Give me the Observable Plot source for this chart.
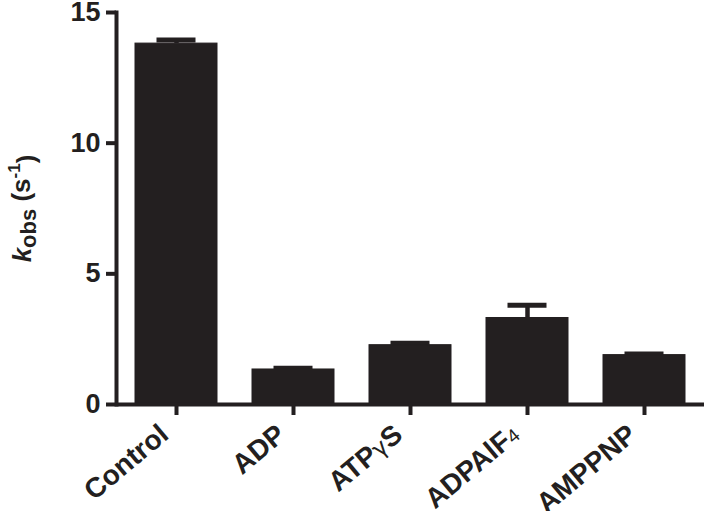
<!DOCTYPE html>
<html><head><meta charset="utf-8">
<script src="https://cdn.jsdelivr.net/npm/d3@7"></script>
<script src="https://cdn.jsdelivr.net/npm/@observablehq/plot@0.6"></script>
<style>
body{margin:0;background:#fff}
svg{font-family:"Liberation Sans",Arial,Helvetica,sans-serif}
</style>
</head><body><div id="chart"></div>
<script>
// Data
const categories = ["Control", "ADP", "ATPγS", "ADPAlF4", "AMPPNP"];
const means = [13.81, 1.34, 2.27, 3.31, 1.89];
const errors = [0.14, 0.05, 0.07, 0.49, 0.04];
const yTicks = [0, 5, 10, 15];
const yLabel = "kobs (s-1)";

const ink = "#231f20";
const data = categories.map((c, i) => ({cat: c, mean: means[i], top: means[i] + errors[i]}));

const plot = Plot.plot({
  width: 708,
  height: 511,
  marginLeft: 116,
  marginRight: 4,
  marginTop: 12,
  marginBottom: 107,
  style: {background: "#fff", color: ink, fontFamily: "'Liberation Sans', Arial, sans-serif"},
  x: {domain: categories, paddingInner: 0.3, paddingOuter: 0.15, label: null},
  y: {domain: [0, 15], label: null},
  marks: [
    Plot.ruleX(data, {x: "cat", y1: "mean", y2: "top", stroke: ink, strokeWidth: 4.5}),
    Plot.tickY(data, {x: "cat", y: "top", stroke: ink, strokeWidth: 5, insetLeft: 21.5, insetRight: 21.5}),
    Plot.barY(data, {x: "cat", y: "mean", fill: ink, stroke: ink, strokeWidth: 1}),
    Plot.ruleY([0], {stroke: ink, strokeWidth: 4}),
    Plot.frame({anchor: "left", stroke: ink, strokeWidth: 4}),
    Plot.axisY({ticks: yTicks, tickSize: 10, tickPadding: 6, fontSize: 27, fontWeight: "bold", strokeWidth: 4, label: null}),
    Plot.axisX({tickSize: 11, tickFormat: () => "", strokeWidth: 4, label: null}),
    Plot.axisX({tickSize: 0, tickPadding: 26, dx: -12, tickRotate: -40, fontSize: 28, fontWeight: "bold", label: null}),
    Plot.text([yLabel], {frameAnchor: "left", dx: -94, rotate: -90, fontSize: 26, fontWeight: "bold", fill: ink, textAnchor: "middle", className: "ylab"})
  ]
});
document.getElementById("chart").appendChild(plot);

// Rich text: italics, sub/superscripts
const svg = d3.select(plot);
svg.selectAll("g[aria-label='x-axis tick label'] text").each(function() {
  const t = d3.select(this);
  const s = t.text();
  if (s === "") { t.remove(); return; }
  if (s === "ATPγS") {
    t.text(null);
    t.append("tspan").text("ATP");
    t.append("tspan").attr("font-weight", "normal").attr("font-family", "'DejaVu Sans', sans-serif").attr("font-size", 23).text("γ");
    t.append("tspan").text("S");
  } else if (s === "ADPAlF4") {
    t.text(null);
    t.append("tspan").text("ADPAlF");
    t.append("tspan").attr("font-weight", "normal").attr("font-size", 19).text("4");
  }
});
svg.selectAll("g.ylab text, g[aria-label='text'] text").each(function() {
  const t = d3.select(this);
  if (t.text() !== yLabel) return;
  t.text(null);
  t.append("tspan").attr("font-style", "italic").text("k");
  t.append("tspan").attr("font-size", 22).attr("dy", "0.25em").text("obs");
  t.append("tspan").attr("dy", "-0.25em").text(" (s");
  t.append("tspan").attr("font-size", 17).attr("dy", "-0.55em").text("-1");
  t.append("tspan").attr("dy", "0.55em").text(")");
});
</script>
</body></html>
